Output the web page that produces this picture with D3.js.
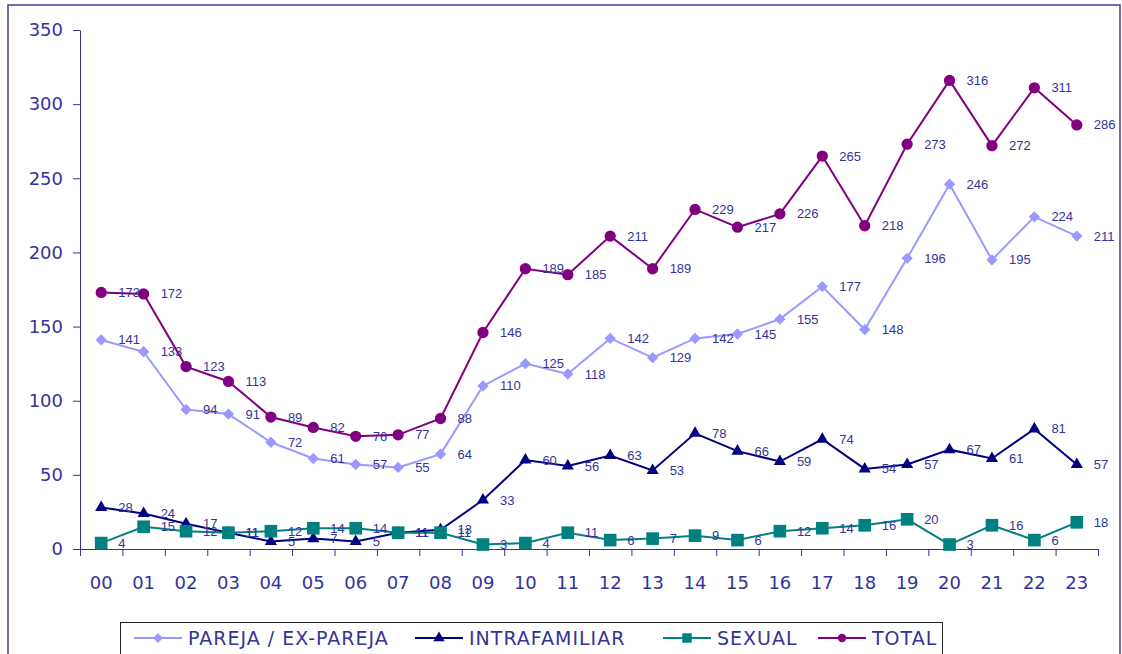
<!DOCTYPE html>
<html>
<head>
<meta charset="utf-8">
<script src="https://cdn.jsdelivr.net/npm/d3@7"></script>
<style>
  body { margin: 0; background: #fff; }
  svg { display: block; }
</style>
</head>
<body>
<div id="chart"></div>
<script>
// hours of the day
var categories = ["00","01","02","03","04","05","06","07","08","09","10","11",
                  "12","13","14","15","16","17","18","19","20","21","22","23"];

var pareja = [141,133,94,91,72,61,57,55,64,110,125,118,142,129,142,145,155,177,148,196,246,195,224,211];
var intrafamiliar = [28,24,17,11,5,7,5,11,13,33,60,56,63,53,78,66,59,74,54,57,67,61,81,57];
var sexual = [4,15,12,11,12,14,14,11,11,3,4,11,6,7,9,6,12,14,16,20,3,16,6,18];
var total = [173,172,123,113,89,82,76,77,88,146,189,185,211,189,229,217,226,265,218,273,316,272,311,286];

var yTicks = [0,50,100,150,200,250,300,350];

var seriesNames = ["PAREJA / EX-PAREJA", "INTRAFAMILIAR", "SEXUAL", "TOTAL"];

var W = 1122, H = 654;
var textColor = "#333399";

var series = [
  {name: seriesNames[0], values: pareja, color: "#9999ff", symbol: "diamond"},
  {name: seriesNames[1], values: intrafamiliar, color: "#000080", symbol: "triangle"},
  {name: seriesNames[2], values: sexual, color: "#008080", symbol: "square"},
  {name: seriesNames[3], values: total, color: "#800080", symbol: "circle"}
];

var svg = d3.select("#chart").append("svg")
  .attr("width", W).attr("height", H);

// outer frame
svg.append("rect")
  .attr("x", 8).attr("y", 5)
  .attr("width", 1112).attr("height", 680)
  .attr("fill", "none")
  .attr("stroke", "#3f3fa0")
  .attr("stroke-width", 1.5);

var x = d3.scaleBand().domain(categories).range([80, 1098]).paddingInner(0).paddingOuter(0);
var xb = d3.scaleLinear().domain([0, categories.length]).range([80, 1098]);
var y = d3.scaleLinear().domain([0, 350]).range([549, 30]);

function cx(i) { return x(categories[i]) + x.bandwidth() / 2; }

// y axis
var yAxis = svg.append("g")
  .attr("transform", "translate(80,0)")
  .call(d3.axisLeft(y).tickValues(yTicks).tickSize(7).tickPadding(10).tickSizeOuter(0));
yAxis.select(".domain").attr("stroke", textColor);
yAxis.selectAll(".tick line").attr("stroke", textColor);
yAxis.selectAll(".tick text")
  .attr("fill", textColor)
  .style("font-family", "'DejaVu Sans', sans-serif")
  .style("font-size", "18px");

// x axis: ticks at band edges, labels at band centres
var xTicks = svg.append("g")
  .attr("transform", "translate(0,549)")
  .call(d3.axisBottom(xb).ticks(categories.length).tickSize(7).tickFormat("").tickSizeOuter(0));
xTicks.select(".domain").attr("stroke", textColor);
xTicks.selectAll(".tick line").attr("stroke", textColor);

var xLabels = svg.append("g")
  .attr("transform", "translate(0,549)")
  .call(d3.axisBottom(x).tickSize(0).tickPadding(27));
xLabels.select(".domain").remove();
xLabels.selectAll(".tick text")
  .attr("fill", textColor)
  .style("font-family", "'DejaVu Sans', sans-serif")
  .style("font-size", "18px");

function symbolPath(type, big) {
  var s;
  if (type == "diamond") s = d3.symbol(d3.symbolSquare, big ? 64 : 50);
  if (type == "triangle") s = d3.symbol(d3.symbolTriangle, big ? 64 : 56);
  if (type == "square") s = d3.symbol(d3.symbolSquare, big ? 160 : 90);
  if (type == "circle") s = d3.symbol(d3.symbolCircle, big ? 100 : 56);
  return s();
}

var line = d3.line()
  .x(function(d, i) { return cx(i); })
  .y(function(d) { return y(d); });

series.forEach(function(s) {
  var g = svg.append("g").attr("class", "series");
  g.append("path")
    .datum(s.values)
    .attr("d", line)
    .attr("fill", "none")
    .attr("stroke", s.color)
    .attr("stroke-width", 2);

  g.selectAll(".mark")
    .data(s.values)
    .enter().append("path")
    .attr("class", "mark")
    .attr("d", symbolPath(s.symbol, true))
    .attr("fill", s.color)
    .attr("transform", function(d, i) {
      var t = "translate(" + cx(i) + "," + y(d) + ")";
      if (s.symbol == "diamond") t += " rotate(45)";
      return t;
    });
});

// data labels (drawn after all lines, like the original)
series.forEach(function(s) {
  svg.append("g").selectAll("text")
    .data(s.values)
    .enter().append("text")
    .attr("x", function(d, i) { return cx(i) + 17; })
    .attr("y", function(d) { return y(d); })
    .attr("dy", "0.35em")
    .attr("fill", textColor)
    .style("font-family", "'Liberation Sans', Arial, sans-serif")
    .style("font-size", "13px")
    .text(function(d) { return d; });
});

// legend
var legend = svg.append("g");
legend.append("rect")
  .attr("x", 120.5).attr("y", 622.5)
  .attr("width", 822).attr("height", 50)
  .attr("fill", "#fff")
  .attr("stroke", "#222")
  .attr("stroke-width", 1);

var legendX = [134, 415, 663, 818];
var legendY = 638;
series.forEach(function(s, i) {
  var lg = legend.append("g");
  lg.append("line")
    .attr("x1", legendX[i]).attr("x2", legendX[i] + 48)
    .attr("y1", legendY).attr("y2", legendY)
    .attr("stroke", s.color).attr("stroke-width", 2);
  lg.append("path")
    .attr("d", symbolPath(s.symbol, false))
    .attr("fill", s.color)
    .attr("transform", "translate(" + (legendX[i] + 24) + "," + legendY + ")" + (s.symbol == "diamond" ? " rotate(45)" : ""));
  lg.append("text")
    .attr("x", legendX[i] + 54)
    .attr("y", legendY)
    .attr("dy", "0.36em")
    .attr("fill", textColor)
    .style("font-family", "'DejaVu Sans', sans-serif")
    .style("font-size", "19px")
    .style("letter-spacing", "1px")
    .text(s.name);
});
</script>
</body>
</html>
